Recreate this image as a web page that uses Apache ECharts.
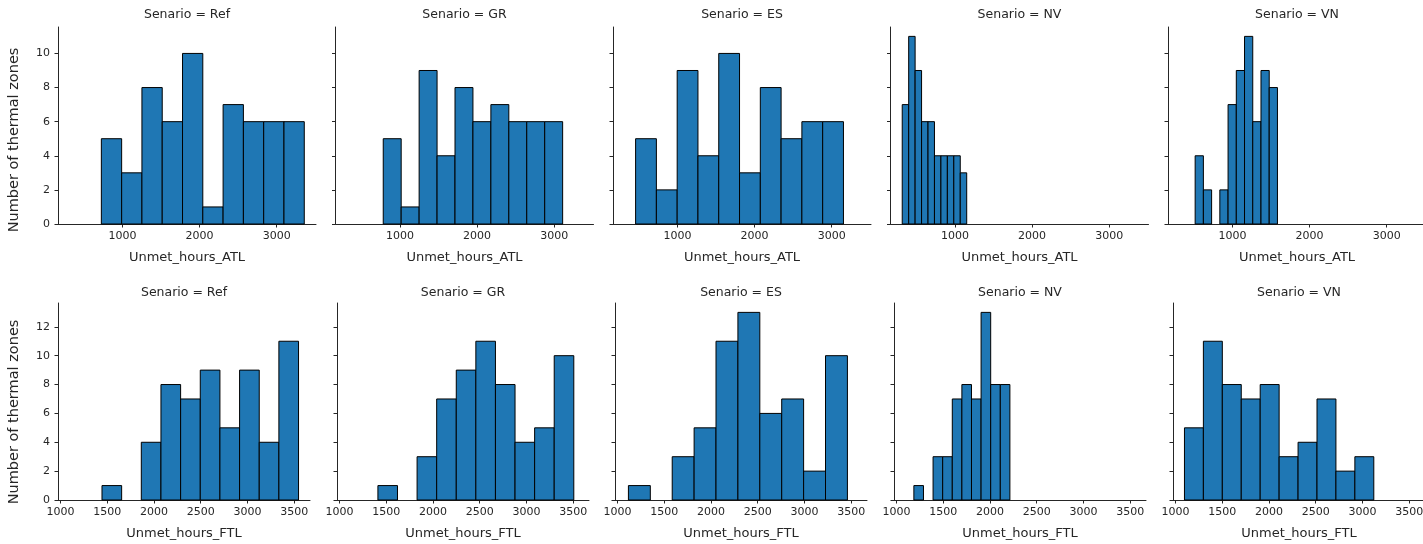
<!DOCTYPE html>
<html><head><meta charset="utf-8">
<script src="https://cdn.jsdelivr.net/npm/echarts@6/dist/echarts.min.js"></script>
<style>html,body{margin:0;padding:0;background:#fff}#c{width:1423px;height:544px}</style>
</head><body><div id="c"></div>
<script>
// ---- data ----
const scenarios = ['Ref', 'GR', 'ES', 'NV', 'VN'];
// Unmet_hours_ATL : first and last bin edge per scenario, 10 equal bins
const atlLo = [726, 783, 457, 316, 516];
const atlHi = [3357, 3109, 3152, 1152, 1583];
const atlRef = [5, 3, 8, 6, 10, 1, 7, 6, 6, 6];
const atlGR  = [5, 1, 9, 4, 8, 6, 7, 6, 6, 6];
const atlES  = [5, 2, 9, 4, 10, 3, 8, 5, 6, 6];
const atlNV  = [7, 11, 9, 6, 6, 4, 4, 4, 4, 3];
const atlVN  = [4, 2, 0, 2, 7, 9, 11, 6, 9, 8];
// Unmet_hours_FTL
const ftlLo = [1445, 1412, 1118, 1187, 1097];
const ftlHi = [3547, 3507, 3460, 2214, 3122];
const ftlRef = [1, 0, 4, 8, 7, 9, 5, 9, 4, 11];
const ftlGR  = [1, 0, 3, 7, 9, 11, 8, 4, 5, 10];
const ftlES  = [1, 0, 3, 5, 11, 13, 6, 7, 2, 10];
const ftlNV  = [1, 0, 3, 3, 7, 8, 7, 13, 8, 8];
const ftlVN  = [5, 11, 8, 7, 8, 3, 4, 7, 2, 3];
// tick labels
const atlTicks = [1000, 2000, 3000];
const ftlTicks = [1000, 1500, 2000, 2500, 3000, 3500];
const atlYTicks = [0, 2, 4, 6, 8, 10];
const ftlYTicks = [0, 2, 4, 6, 8, 10, 12];

// ---- layout ----
const FONT = 'DejaVu Sans';
const TXT = '#262626';
const rows = [
  { counts: [atlRef, atlGR, atlES, atlNV, atlVN], lo: atlLo, hi: atlHi, ticks: atlTicks, yTicks: atlYTicks,
    name: 'Unmet_hours_ATL', lefts: [58, 335.5, 613, 890.5, 1168], width: 258, top: 27, height: 197, titleY: 15, ylabY: 140 },
  { counts: [ftlRef, ftlGR, ftlES, ftlNV, ftlVN], lo: ftlLo, hi: ftlHi, ticks: ftlTicks, yTicks: ftlYTicks,
    name: 'Unmet_hours_FTL', lefts: [58, 337, 615, 894, 1173], width: 252, top: 303, height: 197, titleY: 293, ylabY: 412 }
];

const grid = [], xAxis = [], yAxis = [], series = [], graphic = [];
rows.forEach((row, r) => {
  const xmin0 = Math.min(...row.lo), xmax0 = Math.max(...row.hi);
  const pad = (xmax0 - xmin0) * 0.05;
  const ymaxC = Math.max(...row.counts.map(c => Math.max(...c)));
  scenarios.forEach((s, i) => {
    const idx = grid.length;
    grid.push({ left: row.lefts[i], top: row.top, width: row.width, height: row.height, containLabel: false, outerBoundsMode: 'none' });
    xAxis.push({
      type: 'value', gridIndex: idx, min: xmin0 - pad, max: xmax0 + pad,
      name: row.name, nameLocation: 'middle', nameGap: 27,
      nameTextStyle: { fontFamily: FONT, fontSize: 13, color: TXT },
      axisLine: { show: true, onZero: false, lineStyle: { color: TXT, width: 1 } },
      axisTick: { show: true, length: 3.5, lineStyle: { color: TXT, width: 1 }, customValues: row.ticks },
      axisLabel: { show: true, fontFamily: FONT, fontSize: 11, color: TXT, margin: 7, customValues: row.ticks,
        formatter: v => String(v) },
      splitLine: { show: false }
    });
    yAxis.push({
      type: 'value', gridIndex: idx, min: 0, max: ymaxC * 1.05,
      axisLine: { show: true, onZero: false, lineStyle: { color: TXT, width: 1 } },
      axisTick: { show: true, length: 3.5, lineStyle: { color: TXT, width: 1 }, customValues: row.yTicks },
      axisLabel: { show: i === 0, fontFamily: FONT, fontSize: 11, color: TXT, margin: 8, customValues: row.yTicks,
        formatter: v => String(v) },
      splitLine: { show: false }
    });
    const counts = row.counts[i];
    const w = (row.hi[i] - row.lo[i]) / counts.length;
    const data = [];
    counts.forEach((c, k) => { if (c > 0) data.push([row.lo[i] + k * w, row.lo[i] + (k + 1) * w, c]); });
    series.push({
      type: 'custom', xAxisIndex: idx, yAxisIndex: idx, data: data,
      encode: { x: [0, 1], y: 2 },
      renderItem: (params, api) => {
        const p0 = api.coord([api.value(0), api.value(2)]);
        const p1 = api.coord([api.value(1), 0]);
        return { type: 'rect', shape: { x: p0[0], y: p0[1], width: p1[0] - p0[0], height: p1[1] - p0[1] },
          style: { fill: '#1f77b4', stroke: '#000', lineWidth: 1 } };
      }
    });
    graphic.push({ type: 'text', x: row.lefts[i] + row.width / 2, y: row.titleY,
      style: { text: 'Senario = ' + s, fontFamily: FONT, fontSize: 12.5, fill: TXT, align: 'center', verticalAlign: 'middle' } });
  });
  graphic.push({ type: 'text', x: 14, y: row.ylabY, rotation: Math.PI / 2,
    style: { text: 'Number of thermal zones', fontFamily: FONT, fontSize: 14.5, fill: TXT, align: 'center', verticalAlign: 'middle' } });
});

const chart = echarts.init(document.getElementById('c'), null, { renderer: 'canvas' });
chart.setOption({ animation: false, backgroundColor: '#fff', grid, xAxis, yAxis, series, graphic });
</script></body></html>
